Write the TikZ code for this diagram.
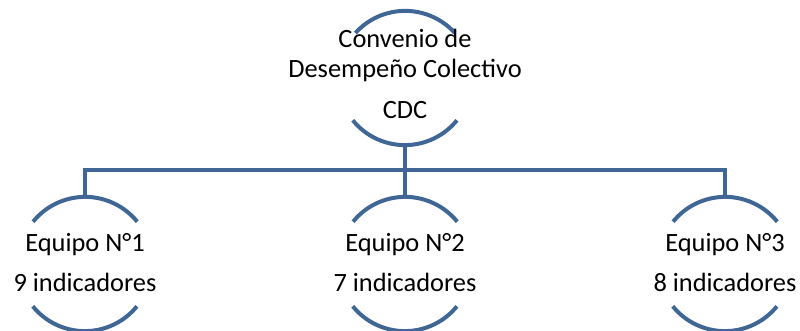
\documentclass[tikz,border=0pt]{standalone}
\usepackage{fontspec}
\setmainfont{Carlito}
\definecolor{arcblue}{RGB}{64,102,150}
\begin{document}
\begin{tikzpicture}[x=1pt,y=1pt,
  ring/.style={circle,draw=none,inner sep=0pt,minimum size=134pt},
  arcline/.style={draw=arcblue,line width=4pt},
  conn/.style={draw=arcblue,line width=4pt},
  lbl/.style={anchor=base,inner sep=0pt,font=\fontsize{26.4}{30}\selectfont}]
\useasboundingbox (0,0) rectangle (800,331);
% circles (invisible, for anchors)
\node[ring] (top) at (405,253) {};
\node[ring] (c1) at (85,67) {};
\node[ring] (c2) at (405,67) {};
\node[ring] (c3) at (725,67) {};
% arcs
\draw[arcline] (top.42) arc[start angle=42,end angle=138,radius=67pt];
\draw[arcline] (top.219) arc[start angle=219,end angle=321,radius=67pt];
\foreach \c in {c1,c2,c3}{
  \draw[arcline] (\c.39) arc[start angle=39,end angle=141,radius=67pt];
  \draw[arcline] (\c.219) arc[start angle=219,end angle=321,radius=67pt];
}
% connectors
\coordinate (bar) at (405,161);
\draw[conn] (top.south) -- (c2.north);
\draw[conn] (c1.north) -- (c1.north |- bar) -- (c3.north |- bar) -- (c3.north);
% texts
\node[lbl] (t1) at (405,283) {Convenio de};
\node[lbl] (t2) at (405,253) {Desempeño Colectivo};
\node[lbl] (t3) at (405,212) {CDC};
\node[lbl] (e1) at (85,79) {Equipo N°1};
\node[lbl] (i1) at (85,39) {9 indicadores};
\node[lbl] (e2) at (405,79) {Equipo N°2};
\node[lbl] (i2) at (405,39) {7 indicadores};
\node[lbl] (e3) at (725,79) {Equipo N°3};
\node[lbl] (i3) at (725,39) {8 indicadores};
\end{tikzpicture}
\end{document}
